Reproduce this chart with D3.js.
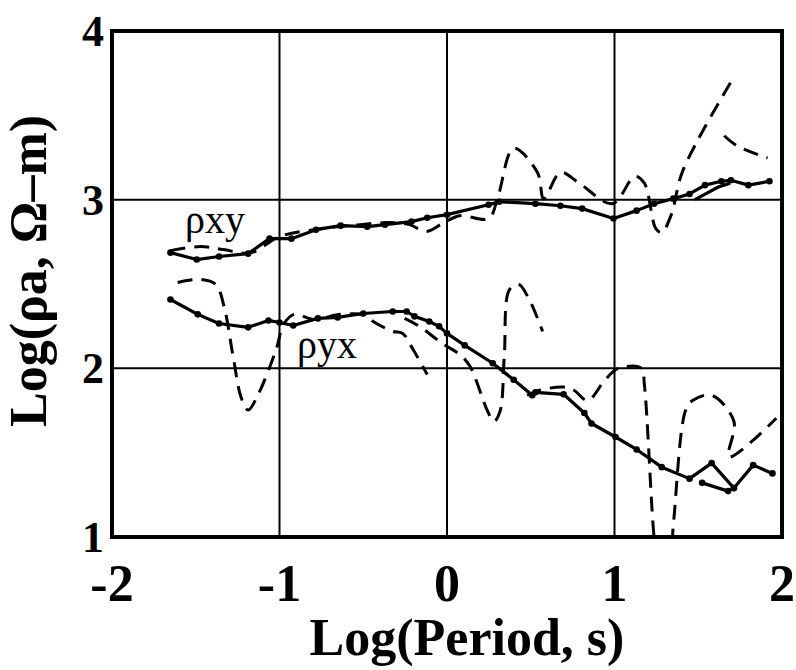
<!DOCTYPE html>
<html><head><meta charset="utf-8">
<script src="https://cdn.jsdelivr.net/npm/d3@7"></script>
<style>body{margin:0;background:#fff}svg{display:block}</style>
</head><body>
<svg id="c" width="796" height="670"></svg>
<script>
// ---- data ----
const xTicks = [-2, -1, 0, 1, 2];
const yTicks = [1, 2, 3, 4];
const xTitle = "Log(Period, s)";
const yTitle = "Log(ρa, Ω–m)";

// rho_xy, solid with dots
const xySolid = [[-1.651,2.686],[-1.494,2.645],[-1.361,2.663],[-1.187,2.680],[-1.060,2.769],[-0.929,2.769],
  [-0.782,2.822],[-0.635,2.846],[-0.476,2.840],[-0.371,2.852],[-0.212,2.870],[-0.118,2.893],[0,2.911],
  [0.248,2.970],[0.311,2.988],[0.528,2.976],[0.677,2.964],[0.807,2.947],[0.994,2.888],[1.132,2.935],
  [1.236,2.976],[1.351,3.006],[1.448,3.034],[1.540,3.086],[1.638,3.109],[1.695,3.115],[1.799,3.086],[1.925,3.109]];
const xySolid2 = [[1.480,3.000],[1.555,3.040],[1.620,3.075],[1.690,3.098]];
// rho_xy, dashed
const xyDash = [[-1.651,2.698],[-1.470,2.722],[-1.337,2.704],[-1.169,2.686],[-1.0,2.781],[-0.753,2.828],
  [-0.518,2.852],[-0.341,2.864],[-0.224,2.852],[-0.124,2.811],[-0.018,2.864],[0.075,2.905],[0.248,2.888],
  [0.304,3.017],[0.398,3.305],[0.540,3.161],[0.578,3.006],[0.677,3.161],[0.789,3.098],[0.988,2.976],
  [1.121,3.138],[1.178,3.098],[1.247,2.828],[1.282,2.805],[1.339,2.911],[1.408,3.172],[1.707,3.718]];
const xyDash2 = [[1.655,3.379],[1.736,3.316],[1.914,3.247]];

// rho_yx, solid with dots
const yxSolid = [[-1.651,2.408],[-1.488,2.320],[-1.361,2.266],[-1.187,2.243],[-1.066,2.284],[-1.0,2.272],
  [-0.918,2.254],[-0.771,2.296],[-0.653,2.302],[-0.5,2.325],[-0.324,2.337],[-0.241,2.337],[-0.194,2.308],
  [-0.106,2.278],[-0.047,2.249],[0,2.207],[0.106,2.136],[0.273,2.030],[0.398,1.932],[0.509,1.840],
  [0.528,1.858],[0.696,1.846],[0.820,1.735],[0.863,1.673],[1.006,1.593],[1.132,1.519],[1.282,1.414],
  [1.448,1.346],[1.580,1.438],[1.713,1.290],[1.828,1.426],[1.943,1.377]];
const yxSolid2 = [[1.523,1.321],[1.678,1.272],[1.713,1.290]];
// rho_yx, dashed
const yxDash = [[-1.608,2.509],[-1.470,2.527],[-1.380,2.497],[-1.331,2.367],[-1.277,2.071],[-1.229,1.827],
  [-1.187,1.753],[-1.127,1.846],[-1.018,2.118],[-0.976,2.260],[-0.912,2.320],[-0.794,2.290],[-0.635,2.320],
  [-0.488,2.314],[-0.441,2.278],[-0.324,2.219],[-0.265,2.207],[-0.206,2.118],[-0.118,1.963]];
const yxDash2 = [[-0.253,2.296],[-0.165,2.249],[-0.029,2.148],[0.075,2.083],[0.137,2.012],[0.242,1.747],
  [0.280,1.685],[0.317,1.747],[0.342,2.071],[0.373,2.467],[0.429,2.497],[0.491,2.408],[0.571,2.219]];
const yxDash3 = [[0.478,1.840],[0.553,1.870],[0.696,1.889],[0.758,1.870],[0.839,1.809],[0.944,1.932],
  [1.023,2.0],[1.161,2.0],[1.178,1.907],[1.236,1.0],[1.264,0.78],[1.322,0.78],[1.351,1.068],[1.425,1.753],
  [1.466,1.809],[1.580,1.840],[1.713,1.685],[1.684,1.475],[1.966,1.704]];

// ---- drawing ----
const svg = d3.select("#c");
const L = 112, R = 782, T = 31, B = 537;
const x = d3.scaleLinear().domain([-2, 2]).range([L, R]);
const y = d3.scaleLinear().domain([1, 4]).range([B, T]);

svg.append("defs").append("clipPath").attr("id","clip")
  .append("rect").attr("x",L).attr("y",T).attr("width",R-L).attr("height",B-T);

// grid
const g = svg.append("g");
g.selectAll("line.vx").data(xTicks.slice(1,-1)).join("line")
  .attr("x1",d=>x(d)).attr("x2",d=>x(d)).attr("y1",T).attr("y2",B)
  .attr("stroke","#000").attr("stroke-width",2);
g.selectAll("line.hy").data(yTicks.slice(1,-1)).join("line")
  .attr("y1",d=>y(d)).attr("y2",d=>y(d)).attr("x1",L).attr("x2",R)
  .attr("stroke","#000").attr("stroke-width",2);

const line = d3.line().x(d=>x(d[0])).y(d=>y(d[1]));
const smooth = d3.line().x(d=>x(d[0])).y(d=>y(d[1])).curve(d3.curveCatmullRom.alpha(0.5));
const plot = svg.append("g").attr("clip-path","url(#clip)");
function solid(data, dots){
  plot.append("path").datum(data).attr("d",line).attr("fill","none")
    .attr("stroke","#000").attr("stroke-width",3.2).attr("stroke-linejoin","round");
  if(dots) plot.append("g").selectAll("circle").data(data).join("circle")
    .attr("cx",d=>x(d[0])).attr("cy",d=>y(d[1])).attr("r",3.3).attr("fill","#000");
}
function dashed(data){
  plot.append("path").datum(data).attr("d",smooth).attr("fill","none")
    .attr("stroke","#000").attr("stroke-width",3).attr("stroke-dasharray","15,9")
    .attr("stroke-linejoin","round");
}
dashed(xyDash); dashed(xyDash2);
dashed(yxDash); dashed(yxDash2); dashed(yxDash3);
solid(xySolid, true); solid(xySolid2, false);
solid(yxSolid, true); solid(yxSolid2, true);

// frame
svg.append("rect").attr("x",L).attr("y",T).attr("width",R-L).attr("height",B-T)
  .attr("fill","none").attr("stroke","#000").attr("stroke-width",4);

// tick labels
const font = "'Liberation Serif','Times New Roman',serif";
svg.append("g").selectAll("text").data(xTicks).join("text")
  .attr("x",d=>x(d)).attr("y",601).attr("text-anchor","middle")
  .attr("font-family",font).attr("font-weight","bold").attr("font-size",52)
  .text(d=>d);
svg.append("g").selectAll("text").data(yTicks).join("text")
  .attr("x",104).attr("y",d=>y(d)+15).attr("text-anchor","end")
  .attr("font-family",font).attr("font-weight","bold").attr("font-size",44)
  .text(d=>d);

// axis titles
svg.append("text").attr("x",467).attr("y",655).attr("text-anchor","middle")
  .attr("font-family",font).attr("font-weight","bold").attr("font-size",52).text(xTitle);
svg.append("text").attr("transform","translate(46,271) rotate(-90)").attr("text-anchor","middle")
  .attr("font-family",font).attr("font-weight","bold").attr("font-size",52).text(yTitle);

// curve labels
svg.append("text").attr("x",185).attr("y",233).attr("font-family",font).attr("font-size",40).text("ρxy");
svg.append("text").attr("x",297).attr("y",358).attr("font-family",font).attr("font-size",40).text("ρyx");
</script>
</body></html>
